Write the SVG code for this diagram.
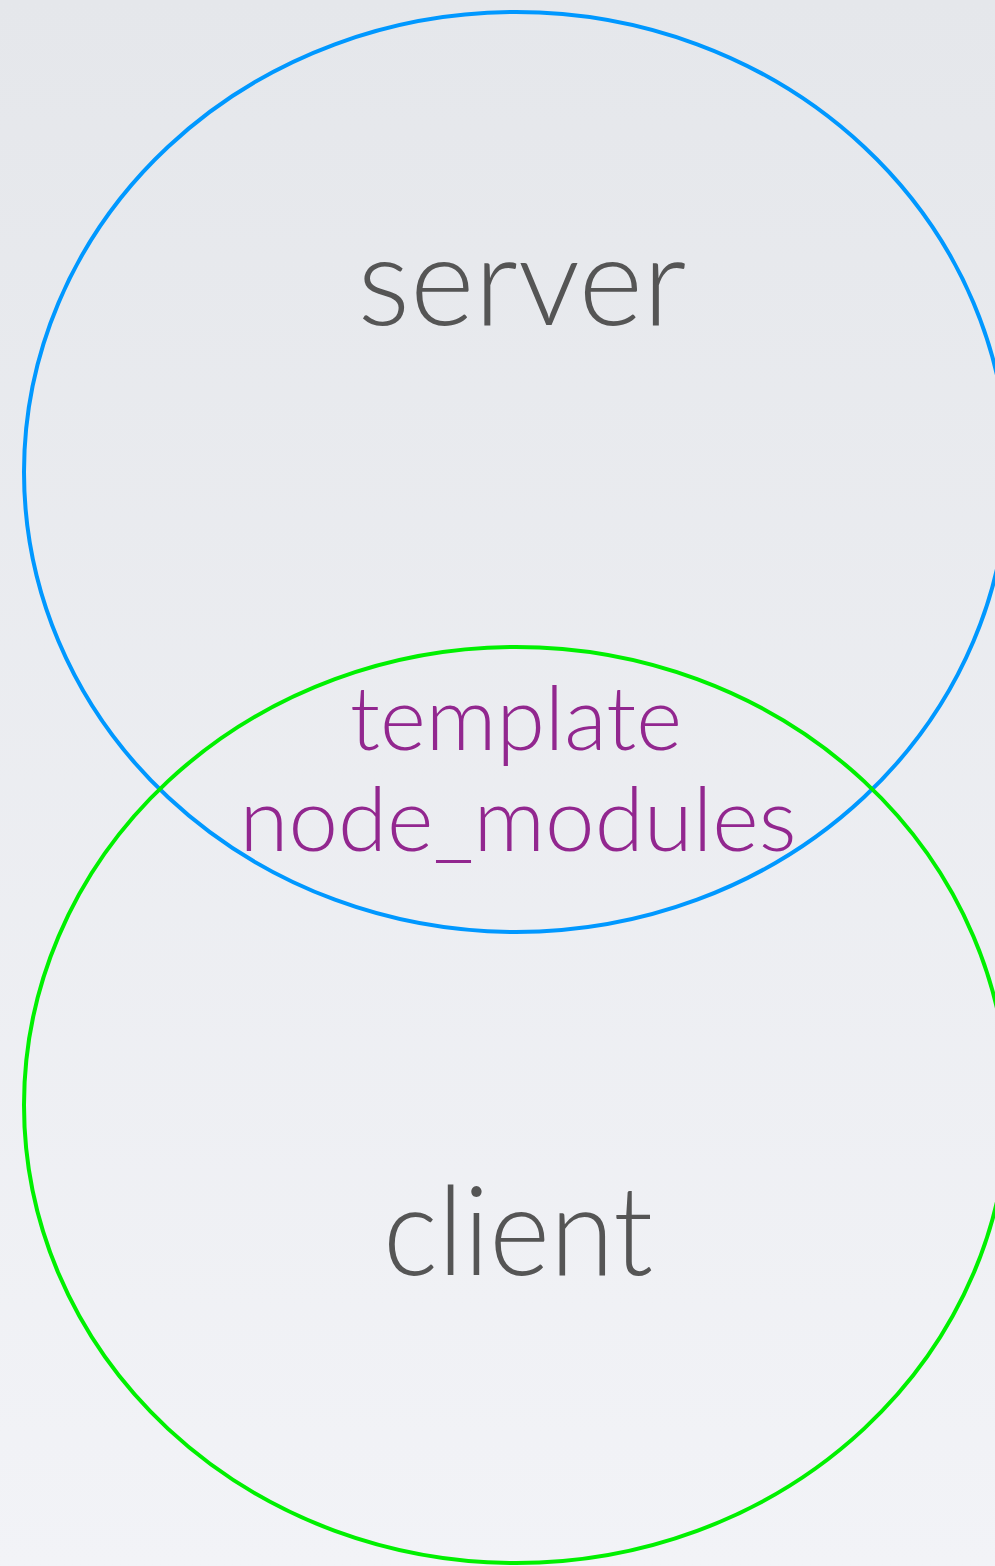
<svg xmlns="http://www.w3.org/2000/svg" width="995" height="1566" viewBox="0 0 995 1566">
  <defs>
    <linearGradient id="bg" x1="0" y1="0" x2="0" y2="1">
      <stop offset="0" stop-color="#e5e7eb"/>
      <stop offset="1" stop-color="#f2f3f7"/>
    </linearGradient>
    <style>
      .set { fill: none; stroke-width: 4; }
      .server-set { stroke: #0098ff; }
      .client-set { stroke: #00f000; }
      .label { font-family: Lato, "Open Sans", "Liberation Sans", sans-serif; font-weight: 300; text-anchor: middle; }
      .main { fill: #555555; font-size: 124px; }
      .shared { fill: #92278f; font-size: 89px; }
    </style>
  </defs>

  <rect width="995" height="1566" fill="url(#bg)"/>

  <!-- server set -->
  <g id="server">
    <ellipse class="set server-set" cx="516" cy="472" rx="492" ry="460"/>
    <text class="label main" x="522" y="325" textLength="329" lengthAdjust="spacingAndGlyphs">server</text>
  </g>

  <!-- client set -->
  <g id="client">
    <ellipse class="set client-set" cx="516" cy="1105" rx="492" ry="458"/>
    <text class="label main" x="518" y="1275" textLength="270" lengthAdjust="spacingAndGlyphs">client</text>
  </g>

  <!-- shared between both sets -->
  <g id="shared">
    <text class="label shared" x="516" y="750" textLength="332" lengthAdjust="spacingAndGlyphs">template</text>
    <text class="label shared" x="518" y="851" textLength="557" lengthAdjust="spacingAndGlyphs">node_modules</text>
  </g>

  <g id="connectors"/>
</svg>
